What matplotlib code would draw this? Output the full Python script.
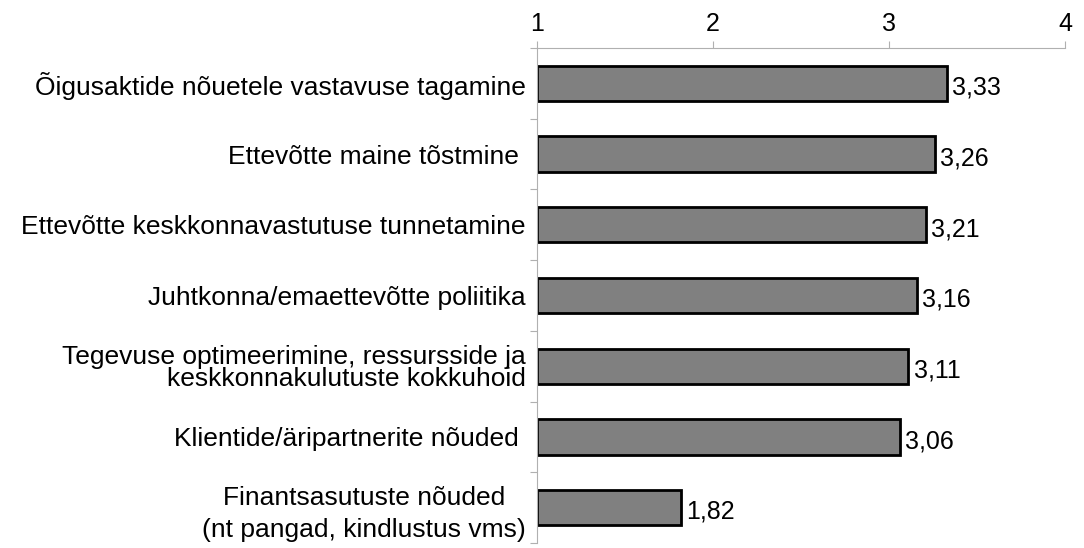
import numpy as np
import matplotlib.pyplot as plt

plt.rcParams['font.family'] = ['Liberation Sans', 'DejaVu Sans']

# categories top to bottom and their mean scores
categories = [
    'Õigusaktide nõuetele vastavuse tagamine',
    'Ettevõtte maine tõstmine ',
    'Ettevõtte keskkonnavastutuse tunnetamine',
    'Juhtkonna/emaettevõtte poliitika',
    'Tegevuse optimeerimine, ressursside ja\nkeskkonnakulutuste kokkuhoid',
    'Klientide/äripartnerite nõuded ',
    'Finantsasutuste nõuded\n(nt pangad, kindlustus vms)',
]
scores = [3.33, 3.26, 3.21, 3.16, 3.11, 3.06, 1.82]
x_ticks = [1, 2, 3, 4]

fs = 18

fig = plt.figure(figsize=(10.84, 5.48), dpi=100)
ax = fig.add_axes([0.4954, 0.009, 0.4871, 0.9034])

y = np.arange(len(categories))
base = 1
ax.barh(y, [s - base for s in scores], left=base, height=0.5,
        color='#808080', edgecolor='black', linewidth=2)

for yi, s in zip(y, scores):
    ax.text(s + 0.03, yi + 0.06, f'{s:.2f}'.replace('.', ','),
            va='center', ha='left', fontsize=fs)

ax.set_xlim(1, 4)
ax.set_ylim(len(categories) - 0.5, -0.5)
ax.xaxis.tick_top()
ax.set_xticks(x_ticks)
ax.set_xticklabels([str(t) for t in x_ticks], fontsize=fs)
ax.tick_params(axis='x', direction='out', length=5, color='#b0b0b0', pad=4)

# major ticks at category boundaries, labels on minor ticks at centres
ax.set_yticks(np.arange(-0.5, len(categories), 1))
ax.set_yticklabels([])
ax.tick_params(axis='y', which='major', direction='out', length=5, color='#b0b0b0')
ax.set_yticks(y, minor=True)
ax.set_yticklabels(categories, minor=True, fontsize=19)
ax.tick_params(axis='y', which='minor', length=0, pad=8)
for lbl in ax.get_yticklabels(minor=True):
    t = lbl.get_text()
    if t.startswith('Tegevuse'):
        lbl.set_multialignment('right')
        lbl.set_linespacing(0.9)
    elif t.startswith('Finants'):
        lbl.set_multialignment('center')
        lbl.set_linespacing(1.4)

for side in ['right', 'bottom']:
    ax.spines[side].set_visible(False)
for side in ['left', 'top']:
    ax.spines[side].set_color('#b0b0b0')
    ax.spines[side].set_linewidth(0.8)

fig.savefig('out.png', dpi=100)
